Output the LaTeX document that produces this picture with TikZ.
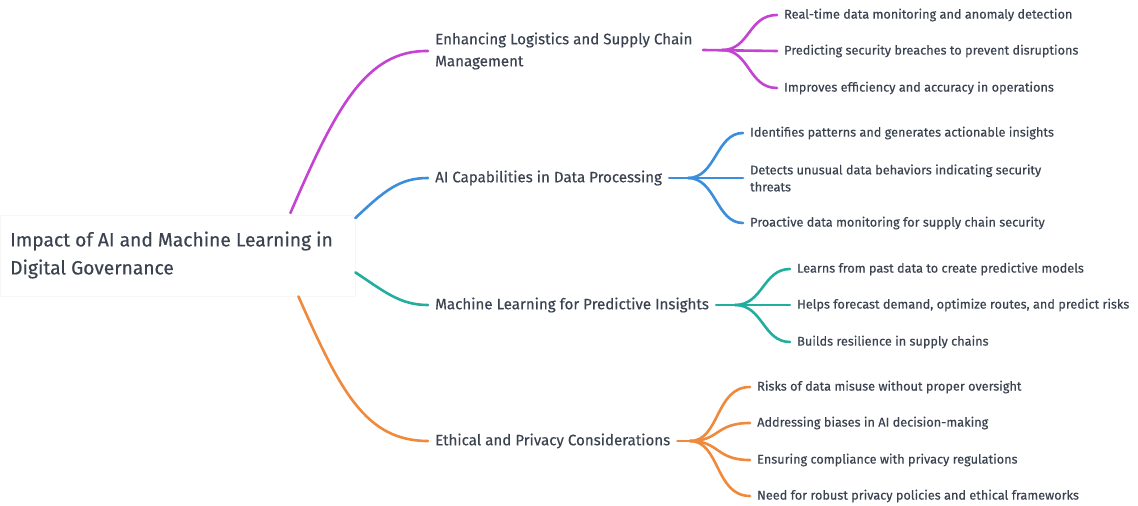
\documentclass[tikz,border=0pt]{standalone}
\usepackage{fontspec}
\setmainfont{Fira Sans}[FakeBold=0.4]
\definecolor{txt}{HTML}{3B4350}
\definecolor{cmag}{HTML}{C443D3}
\definecolor{cblue}{HTML}{3A8EDB}
\definecolor{cteal}{HTML}{22AE9E}
\definecolor{corg}{HTML}{EF8A3C}
\tikzset{
  rootnode/.style={anchor=west, inner sep=0pt, align=left, text=txt, font=\fontsize{19.2}{28}\selectfont},
  branchnode/.style={anchor=west, inner sep=0pt, align=left, text=txt, font=\fontsize{15.1}{22}\selectfont},
  leafnode/.style={anchor=west, inner sep=0pt, align=left, text=txt, font=\fontsize{12.7}{17}\selectfont},
  conn/.style={line width=2.6pt, line cap=round},
}
\begin{document}
\begin{tikzpicture}[x=1pt,y=-1pt]
\useasboundingbox (0,0) rectangle (1138,506);
\node[draw=black!3, fill=white, minimum width=355pt, minimum height=81pt, anchor=north west, inner sep=0pt] (rootbox) at (0,215) {};
\node[rootnode] (root) at (10,255) {Impact of AI and Machine Learning in\\Digital Governance};

\node[branchnode] (b1) at (435,51) {Enhancing Logistics and Supply Chain\\Management};
\node[branchnode] (b2) at (435,178) {AI Capabilities in Data Processing};
\node[branchnode] (b3) at (435,305) {Machine Learning for Predictive Insights};
\node[branchnode] (b4) at (435,441) {Ethical and Privacy Considerations};

\node[leafnode] (l11) at (784,15) {Real-time data monitoring and anomaly detection};
\node[leafnode] (l12) at (784,51) {Predicting security breaches to prevent disruptions};
\node[leafnode] (l13) at (784,88) {Improves efficiency and accuracy in operations};

\node[leafnode] (l21) at (750,133) {Identifies patterns and generates actionable insights};
\node[leafnode] (l22) at (750,178) {Detects unusual data behaviors indicating security\\threats};
\node[leafnode] (l23) at (750,223) {Proactive data monitoring for supply chain security};

\node[leafnode] (l31) at (797,269) {Learns from past data to create predictive models};
\node[leafnode] (l32) at (797,305) {Helps forecast demand, optimize routes, and predict risks};
\node[leafnode] (l33) at (797,342) {Builds resilience in supply chains};

\node[leafnode] (l41) at (757,387) {Risks of data misuse without proper oversight};
\node[leafnode] (l42) at (757,423) {Addressing biases in AI decision-making};
\node[leafnode] (l43) at (757,460) {Ensuring compliance with privacy regulations};
\node[leafnode] (l44) at (757,496) {Need for robust privacy policies and ethical frameworks};

% root to branches
\coordinate (s1) at ([xshift=-65pt,yshift=2pt]rootbox.north east);
\coordinate (s2) at ([yshift=-3pt]rootbox.north east);
\coordinate (s3) at ([yshift=24pt]rootbox.south east);
\coordinate (s4) at ([xshift=-57pt]rootbox.south east);
\draw[conn, cmag] (s1) .. controls (335,110) and (365,50) .. ([xshift=-7pt]b1.west);
\draw[conn, cblue] (s2) .. controls (385,190) and (400,178) .. ([xshift=-7pt]b2.west);
\draw[conn, cteal] (s3) .. controls (385,292) and (400,305) .. ([xshift=-7pt]b3.west);
\draw[conn, corg] (s4) .. controls (340,390) and (365,441) .. ([xshift=-7pt]b4.west);

% branch 1 leaves
\coordinate (f1) at (722,50);
\draw[conn, cmag] (703,50) -- ([xshift=-7pt]l12.west);
\foreach \l in {l11,l13}
  \draw[conn, cmag] (f1) .. controls (750,50) and (748,0 |- \l.west) .. ([xshift=-7pt]\l.west);

% branch 2 leaves
\coordinate (f2) at (688,178);
\draw[conn, cblue] ([xshift=7pt]b2.east) -- ([xshift=-7pt]l22.west);
\foreach \l in {l21,l23}
  \draw[conn, cblue] (f2) .. controls (716,178) and (716,0 |- \l.west) .. ([xshift=-7pt]\l.west);

% branch 3 leaves
\coordinate (f3) at (735,305);
\draw[conn, cteal] ([xshift=7pt]b3.east) -- ([xshift=-7pt]l32.west);
\foreach \l in {l31,l33}
  \draw[conn, cteal] (f3) .. controls (763,305) and (763,0 |- \l.west) .. ([xshift=-7pt]\l.west);

% branch 4 leaves
\coordinate (f4) at (690,441);
\draw[conn, corg] ([xshift=7pt]b4.east) -- (f4);
\foreach \l in {l41,l42,l43,l44}
  \draw[conn, corg] (f4) .. controls (720,441) and (715,0 |- \l.west) .. ([xshift=-7pt]\l.west);
\end{tikzpicture}
\end{document}
